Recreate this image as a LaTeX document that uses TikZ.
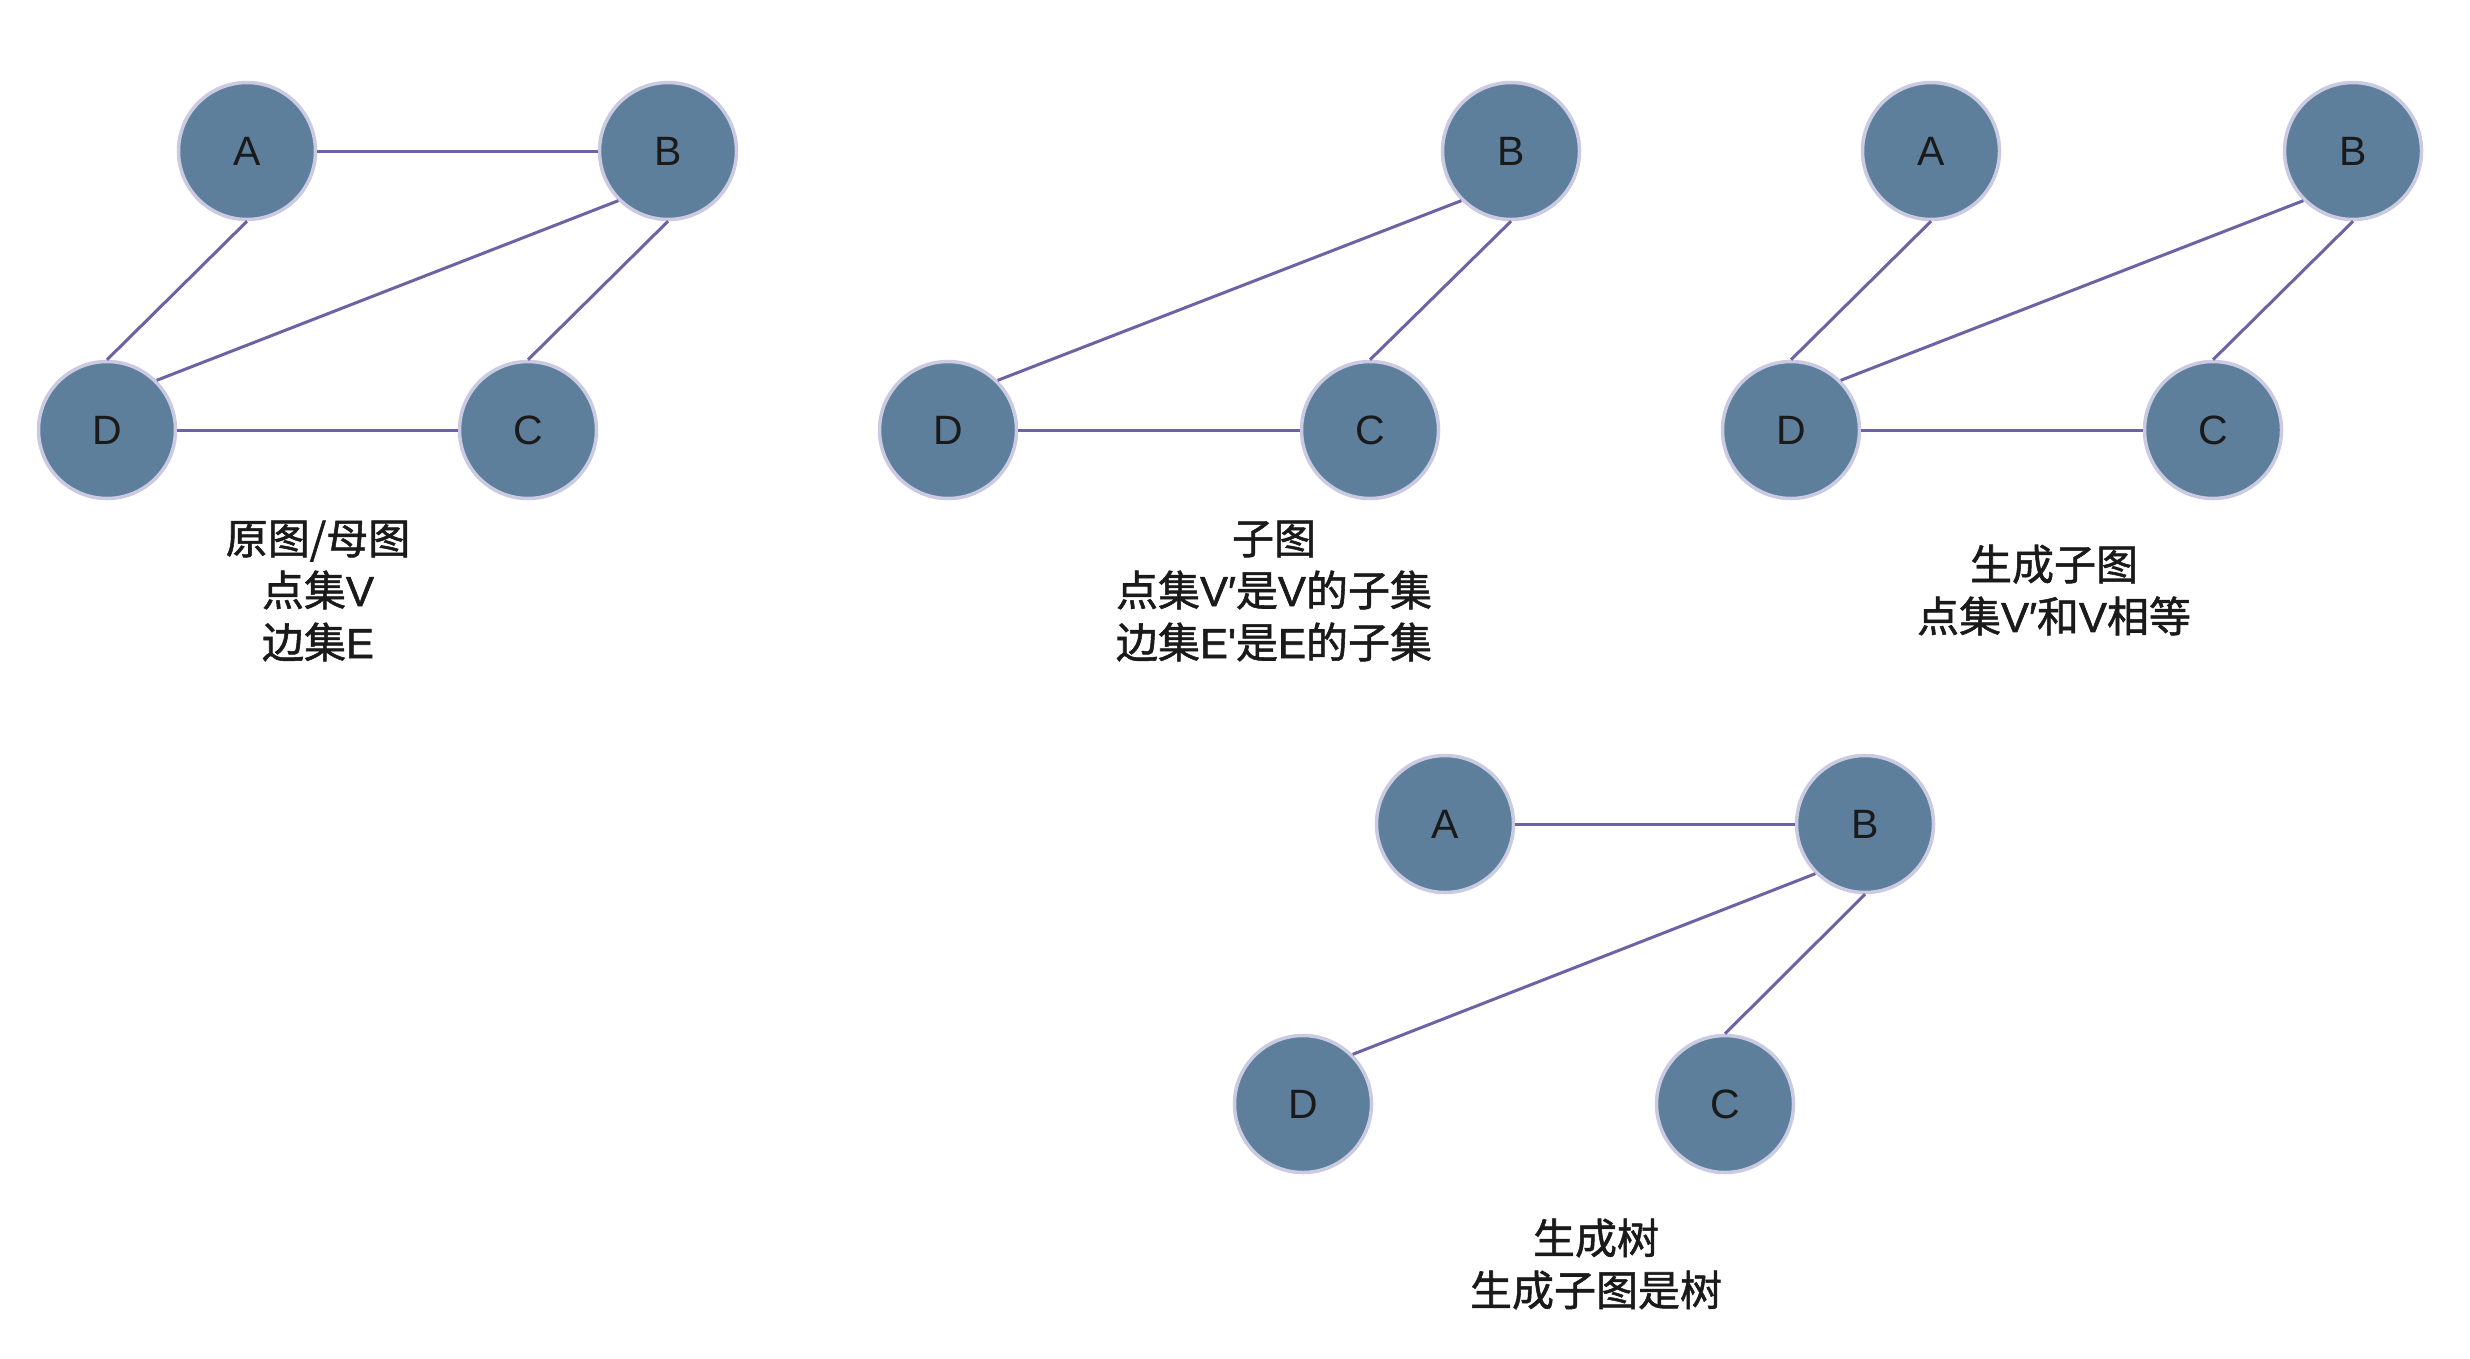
\documentclass[tikz,border=0pt]{standalone}
\usepackage{fontspec}
\setmainfont{Liberation Sans}
\newfontfamily\cjk[FakeBold=1.3]{Noto Sans CJK SC}
\newfontfamily\latfont[FakeBold=1.3]{Liberation Sans}
\newcommand\lat[1]{{\latfont #1}}
\definecolor{nodefill}{HTML}{5D7F9B}
\definecolor{nodeedge}{HTML}{CACAE3}
\definecolor{edgecol}{HTML}{6C63A6}
\definecolor{txt}{HTML}{1A1A1A}
\begin{document}
\begin{tikzpicture}[x=1pt,y=-1pt,
  vnode/.style={circle, fill=nodefill, draw=nodeedge, line width=3.5pt, minimum size=137pt, inner sep=0pt, font=\fontsize{41}{41}\selectfont, text=txt},
  edge/.style={draw=edgecol, line width=3pt},
  lbl/.style={align=center, font=\fontsize{42}{52}\selectfont\cjk, text=txt}]
\useasboundingbox[fill=white] (0,0) rectangle (2470,1358);
% graph 1
\node[vnode] (a1) at (247,151) {A};
\node[vnode] (b1) at (668,151) {B};
\node[vnode] (d1) at (107,430) {D};
\node[vnode] (c1) at (528,430) {C};
\draw[edge] (a1.east) -- (b1.west);
\draw[edge] (a1.south) -- (d1.north);
\draw[edge] (b1.south west) -- (d1.north east);
\draw[edge] (b1.south) -- (c1.north);
\draw[edge] (d1.east) -- (c1.west);
\node[lbl] (l1) at (318,591) {原图/母图\\点集\lat{V}\\边集\lat{E}};
% graph 2
\node[vnode] (b2) at (1511,151) {B};
\node[vnode] (d2) at (948,430) {D};
\node[vnode] (c2) at (1370,430) {C};
\draw[edge] (b2.south west) -- (d2.north east);
\draw[edge] (b2.south) -- (c2.north);
\draw[edge] (d2.east) -- (c2.west);
\node[lbl] (l2) at (1274,591) {子图\\点集\lat{V′}是\lat{V}的子集\\边集\lat{E\char"27}是\lat{E}的子集};
% graph 3
\node[vnode] (a3) at (1931,151) {A};
\node[vnode] (b3) at (2353,151) {B};
\node[vnode] (d3) at (1791,430) {D};
\node[vnode] (c3) at (2213,430) {C};
\draw[edge] (a3.south) -- (d3.north);
\draw[edge] (b3.south west) -- (d3.north east);
\draw[edge] (b3.south) -- (c3.north);
\draw[edge] (d3.east) -- (c3.west);
\node[lbl] (l3) at (2054,590) {生成子图\\点集\lat{V′}和\lat{V}相等};
% graph 4
\node[vnode] (a4) at (1445,824) {A};
\node[vnode] (b4) at (1865,824) {B};
\node[vnode] (d4) at (1303,1104) {D};
\node[vnode] (c4) at (1725,1104) {C};
\draw[edge] (a4.east) -- (b4.west);
\draw[edge] (b4.south west) -- (d4.north east);
\draw[edge] (b4.south) -- (c4.north);
\node[lbl] (l4) at (1596,1264) {生成树\\生成子图是树};
\end{tikzpicture}
\end{document}
